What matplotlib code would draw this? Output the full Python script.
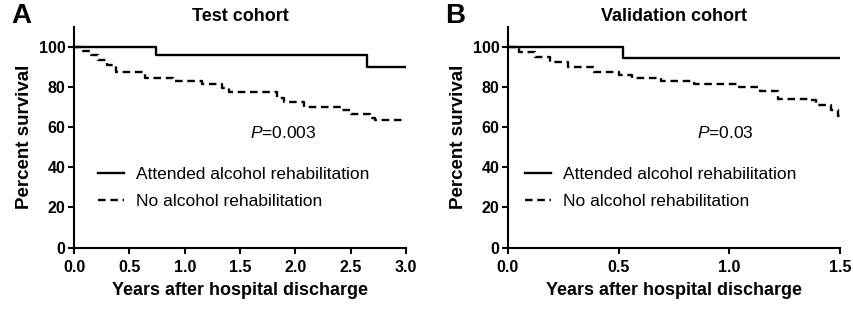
import numpy as np
import matplotlib
matplotlib.use("Agg")
import matplotlib.pyplot as plt

plt.rcParams["font.family"] = ["Liberation Sans", "DejaVu Sans"]
plt.rcParams["mathtext.fontset"] = "custom"
plt.rcParams["mathtext.it"] = "Liberation Sans:italic"
plt.rcParams["mathtext.rm"] = "Liberation Sans"

# Test cohort (years, percent survival)
t_rehab_A = [0, 0.74, 2.645, 3.0]
s_rehab_A = [100, 95.8, 89.8, 89.8]
t_none_A = [0, 0.08, 0.15, 0.22, 0.30, 0.38, 0.64, 0.89, 1.16, 1.34, 1.40,
            1.83, 1.90, 2.08, 2.41, 2.50, 2.67, 2.72, 3.0]
s_none_A = [100, 98.0, 96.0, 93.5, 91.0, 87.7, 84.8, 83.3, 81.7, 79.5, 77.5,
            74.5, 72.5, 70.3, 68.5, 66.8, 64.8, 63.8, 63.8]

# Validation cohort
t_rehab_B = [0, 0.52, 1.5]
s_rehab_B = [100, 94.6, 94.6]
t_none_B = [0, 0.05, 0.12, 0.19, 0.27, 0.39, 0.50, 0.56, 0.69, 0.84, 1.04,
            1.14, 1.22, 1.36, 1.39, 1.46, 1.49, 1.5]
s_none_B = [100, 97.5, 95.0, 92.3, 90.0, 87.5, 86.2, 84.7, 83.3, 81.7, 80.0,
            78.0, 74.2, 73.4, 70.9, 68.5, 65.5, 65.0]

labels = ["Attended alcohol rehabilitation", "No alcohol rehabilitation"]

fig = plt.figure(figsize=(8.54, 3.10), dpi=100)


def panel(rect, t1, s1, t2, s2, xmax, xticks, title, letter, ptext, px, lx):
    ax = fig.add_axes(rect)
    ax.step(t1, s1, where="post", color="black", lw=1.7, label=labels[0])
    ax.step(t2, s2, where="post", color="black", lw=1.7,
            linestyle=(0, (3.2, 2.0)), label=labels[1])
    ax.set_xlim(0, xmax)
    ax.set_ylim(0, 110)
    ax.set_yticks([0, 20, 40, 60, 80, 100])
    ax.set_xticks(xticks)
    ax.set_xticklabels(["%.1f" % v for v in xticks])
    for side in ["top", "right"]:
        ax.spines[side].set_visible(False)
    for side in ["left", "bottom"]:
        ax.spines[side].set_linewidth(1.5)
    ax.tick_params(direction="out", length=4, width=1.5, labelsize=11.5, pad=2)
    ax.tick_params(axis="x", pad=5)
    for lab in ax.get_xticklabels() + ax.get_yticklabels():
        lab.set_fontweight("bold")
    ax.set_xlabel("Years after hospital discharge", fontsize=13,
                  fontweight="bold", labelpad=5)
    ax.set_ylabel("Percent survival", fontsize=13.5, fontweight="bold",
                  labelpad=4)
    ax.set_title(title, fontsize=13, fontweight="bold", pad=4)
    ax.text(-0.19, 0.99, letter, transform=ax.transAxes, fontsize=20,
            fontweight="bold", va="bottom", ha="left")
    ax.text(px, 57, ptext, fontsize=12.5, va="center", ha="left")
    ax.legend(loc="upper left", bbox_to_anchor=(lx, 0.365), frameon=False,
              fontsize=12.5, handlelength=1.5, handletextpad=0.7,
              labelspacing=0.65, borderpad=0, borderaxespad=0)
    return ax


panel([0.0867, 0.2016, 0.3888, 0.7113], t_rehab_A, s_rehab_A, t_none_A,
      s_none_A, 3.0, [0.0, 0.5, 1.0, 1.5, 2.0, 2.5, 3.0], "Test cohort", "A",
      "$P$=0.003", 1.59, 0.072)
panel([0.5948, 0.2016, 0.3888, 0.7113], t_rehab_B, s_rehab_B, t_none_B,
      s_none_B, 1.5, [0.0, 0.5, 1.0, 1.5], "Validation cohort", "B",
      "$P$=0.03", 0.854, 0.051)

fig.savefig("out.png", dpi=100)
